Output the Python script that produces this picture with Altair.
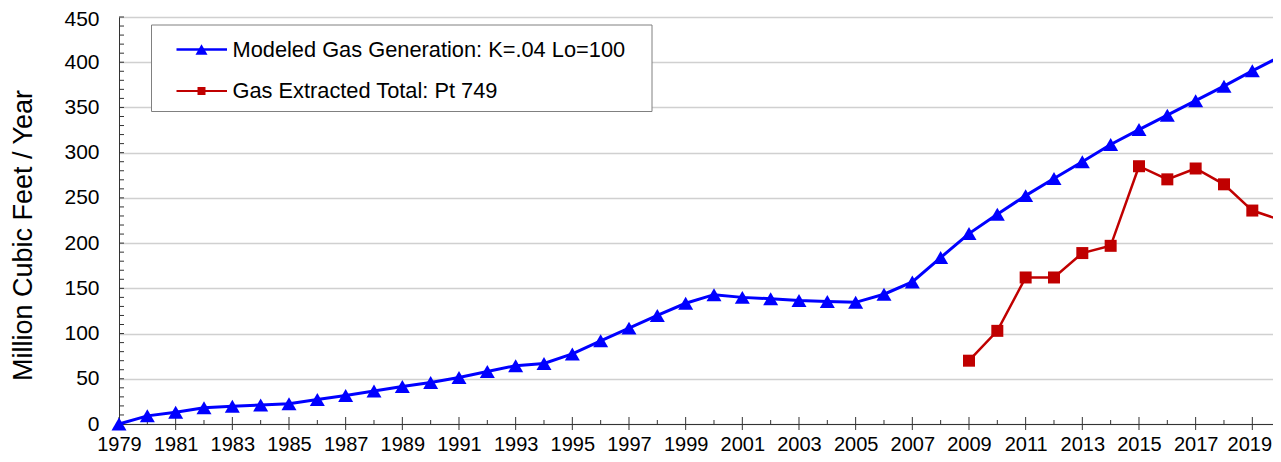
import altair as alt
import pandas as pd

# ---------------- data ----------------
years = list(range(1979, 2021))
modeled = [0, 9, 13, 18, 19.5, 21, 22.5, 27, 31.5, 36.5,
           41.5, 46, 51.5, 58, 64.5, 67, 77.5, 92, 106, 120,
           133.5, 143, 140, 138.5, 136.5, 135.5, 134.5, 143.5, 157, 184,
           210.5, 232, 252.5, 271.5, 290, 309, 325.5, 341.5, 357.5, 373.5,
           390.5, 406.5]
extracted_years = list(range(2009, 2021))
extracted = [70, 103, 162, 162, 189, 197, 285, 270.5, 282.5, 265, 236, 225.5]
series_names = ["Modeled Gas Generation: K=.04 Lo=100", "Gas Extracted Total: Pt 749"]
odd_years = list(range(1979, 2021, 2))
even_years = list(range(1980, 2021, 2))
y_major = list(range(0, 451, 50))
y_minor = list(range(0, 451, 10))

# ---------------- style ----------------
W, H = 1154, 407          # plot area (the reference is cut at the right edge)
X_END = 2019.73           # right edge of the visible plot (reference is cropped there)
BLUE = "#0000FF"
RED = "#C00000"
FONT = "Liberation Sans"

df_m = pd.DataFrame({"year": years, "value": modeled})
df_e = pd.DataFrame({"year": extracted_years, "value": extracted})
df_odd = pd.DataFrame({"year": odd_years})
df_even = pd.DataFrame({"year": even_years})
df_ytick = pd.DataFrame({"value": y_minor})

xscale = alt.Scale(domain=[1979, X_END], nice=False, zero=False)
yscale = alt.Scale(domain=[0, 450], nice=False, zero=True)

xaxis = alt.Axis(values=odd_years, format="d", grid=False, ticks=False, tickSize=0,
                 labelFontSize=20, labelFont=FONT, labelColor="black", labelPadding=10,
                 labelOffset={"condition": {"test": "datum.value >= 2019", "value": -3},
                              "value": 0},
                 domainColor="#333333", domainWidth=1, title=None,
                 labelFlush=False, labelOverlap=False)
yaxis = alt.Axis(values=y_major, grid=True, gridColor="#d0d0d0", gridWidth=1.5,
                 ticks=False, tickSize=0,
                 labelFontSize=21, labelFont=FONT, labelColor="black", labelPadding=20,
                 labelOffset={"condition": {"test": "datum.value >= 450", "value": 2},
                              "value": 0},
                 domainColor="#333333", domainWidth=1,
                 title="Million Cubic Feet / Year", titleFontSize=27, titleFont=FONT,
                 titleFontWeight="normal", titleColor="black", titleAngle=270,
                 titleX=-96, titleY=218, titleAlign="center", titleBaseline="middle")

X = alt.X("year:Q", scale=xscale, axis=xaxis)
Y = alt.Y("value:Q", scale=yscale, axis=yaxis)

blue_line = alt.Chart(df_m).mark_line(color=BLUE, strokeWidth=3).encode(x=X, y=Y)
blue_pts = alt.Chart(df_m).mark_point(shape="triangle-up", size=225, filled=True,
                                      color=BLUE, opacity=1).encode(x=X, y=Y)
red_line = alt.Chart(df_e).mark_line(color=RED, strokeWidth=2.5).encode(x=X, y=Y)
red_pts = alt.Chart(df_e).mark_point(shape="square", size=144, filled=True,
                                     color=RED, opacity=1).encode(x=X, y=Y)

# axis ticks (Excel style)
xmajor = alt.Chart(df_odd).mark_rule(color="#333333", strokeWidth=1).encode(
    x=X, y=alt.value(H - 7), y2=alt.value(H + 6))
xminor = alt.Chart(df_even).mark_rule(color="#333333", strokeWidth=1).encode(
    x=X, y=alt.value(H - 4), y2=alt.value(H))
yticks = alt.Chart(df_ytick).mark_rule(color="#333333", strokeWidth=1).encode(
    y=Y, x=alt.value(0), x2=alt.value(5))

# legend
one = pd.DataFrame({"a": [0]})
leg_box = alt.Chart(one).mark_rect(fill="white", stroke="#808080", strokeWidth=1).encode(
    x=alt.value(32.5), x2=alt.value(533), y=alt.value(8), y2=alt.value(94.5))

def leg_entry(name, color, shape, size, sw, yy):
    d = pd.DataFrame({"label": [name]})
    ln = alt.Chart(d).mark_rule(color=color, strokeWidth=sw).encode(
        x=alt.value(57.5), x2=alt.value(108), y=alt.value(yy))
    pt = alt.Chart(d).mark_point(shape=shape, size=size, filled=True, color=color,
                                 opacity=1).encode(x=alt.value(82.5), y=alt.value(yy))
    tx = alt.Chart(d).mark_text(align="left", baseline="middle", fontSize=21.8, font=FONT,
                                color="black").encode(
        x=alt.value(113.5), y=alt.value(yy), text="label:N")
    return ln + pt + tx

leg1 = leg_entry(series_names[0], BLUE, "triangle-up", 144, 2.5, 32.5)
leg2 = leg_entry(series_names[1], RED, "square", 64, 2, 74)

chart = alt.layer(
    yticks, xmajor, xminor,
    blue_line, blue_pts, red_line, red_pts,
    leg_box, leg1, leg2,
).properties(
    width=W, height=H,
    padding={"left": 111, "top": 9, "right": 0, "bottom": 30},
    autosize=alt.AutoSizeParams(type="none"),
    background="white",
).configure_view(stroke=None).configure(font=FONT)

chart.save("out.html", embed_options={"renderer": "svg", "actions": False})
